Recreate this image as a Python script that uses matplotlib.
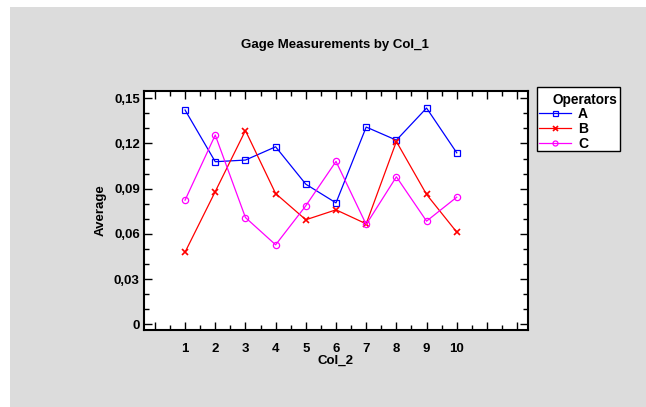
import numpy as np
import matplotlib
matplotlib.use("Agg")
import matplotlib.pyplot as plt
from matplotlib.patches import Rectangle
from matplotlib.ticker import MultipleLocator, FixedLocator, FuncFormatter

plt.rcParams['font.family'] = ['Liberation Sans', 'DejaVu Sans']

# Datos
col_2 = [1, 2, 3, 4, 5, 6, 7, 8, 9, 10]
op_a = [0.1422, 0.1079, 0.1090, 0.1178, 0.0930, 0.0806, 0.1309, 0.1222, 0.1435, 0.1138]
op_b = [0.0479, 0.0881, 0.1286, 0.0868, 0.0694, 0.0760, 0.0667, 0.1213, 0.0862, 0.0612]
op_c = [0.0824, 0.1256, 0.0709, 0.0528, 0.0787, 0.1081, 0.0663, 0.0979, 0.0685, 0.0844]
operadores = ["A", "B", "C"]
y_ticks = [0, 0.03, 0.06, 0.09, 0.12, 0.15]

W, H = 646, 407


def fx(px):
    return px / W


def fy(py):
    return 1 - py / H


fig = plt.figure(figsize=(6.46, 4.07), dpi=100)
fig.patch.set_facecolor("white")
fig.patches.append(Rectangle((fx(10), 0), 1, fy(7), transform=fig.transFigure,
                             facecolor="#dcdcdc", edgecolor="none", zorder=-10))

ax = fig.add_axes([fx(144), fy(330), fx(383.7), 239.3 / H])
ax.set_facecolor("white")

ax.plot(col_2, op_a, color="#0000ff", lw=0.9, marker="s", ms=4.5, mfc="none", mew=0.9, label=operadores[0])
ax.plot(col_2, op_b, color="#ff0000", lw=0.9, marker="x", ms=4.5, mew=1.2, label=operadores[1])
ax.plot(col_2, op_c, color="#ff00ff", lw=0.9, marker="o", ms=4.5, mfc="none", mew=0.9, label=operadores[2])

ax.set_xlim(-0.36, 12.35)
ax.set_ylim(-0.0037, 0.155)

ax.xaxis.set_major_locator(FixedLocator(list(range(0, 13))))
ax.xaxis.set_minor_locator(MultipleLocator(0.5))
ax.xaxis.set_major_formatter(FuncFormatter(lambda v, p: f"{int(round(v))}" if 1 <= round(v) <= 10 else ""))
ax.yaxis.set_major_locator(FixedLocator(y_ticks))
ax.yaxis.set_minor_locator(MultipleLocator(0.01))
ax.yaxis.set_major_formatter(FuncFormatter(lambda v, p: "0" if abs(v) < 1e-9 else f"{v:.2f}".replace(".", ",")))

ax.tick_params(which="both", direction="in", top=True, right=True, width=1.0, color="black")
ax.tick_params(which="major", length=6, labelsize=9.5)
ax.tick_params(axis="y", which="major", pad=3)
ax.tick_params(axis="x", which="major", pad=9)
ax.tick_params(which="minor", length=3.5)
for lbl in ax.get_xticklabels() + ax.get_yticklabels():
    lbl.set_fontweight("bold")
for s in ax.spines.values():
    s.set_linewidth(1.5)

ax.set_xlabel("Col_2", fontsize=9.5, fontweight="bold", labelpad=0)
ax.set_ylabel("Average", fontsize=9.5, fontweight="bold", labelpad=5)
fig.text(fx(335), fy(45), "Gage Measurements by Col_1", ha="center", va="center",
         fontsize=9.5, fontweight="bold")

# Leyenda: marco y título aparte, entradas con fig.legend()
fig.patches.append(Rectangle((fx(536.7), fy(151)), fx(620 - 536.7), (151 - 87.3) / H,
                             transform=fig.transFigure, facecolor="white", edgecolor="black",
                             linewidth=1.0, zorder=5))
fig.text(fx(584.7), fy(99.7), "Operators", ha="center", va="center", fontsize=9.8,
         fontweight="bold", zorder=6)
handles, labels = ax.get_legend_handles_labels()
leg = fig.legend(handles, labels, loc="upper left", bbox_to_anchor=(fx(539), fy(106.5)),
                 frameon=False, prop={"weight": "bold", "size": 10}, markerscale=0.8,
                 handlelength=2.3, handletextpad=0.5, labelspacing=0.08, borderpad=0, borderaxespad=0)
leg.set_zorder(7)

fig.savefig("out.png", dpi=100)
